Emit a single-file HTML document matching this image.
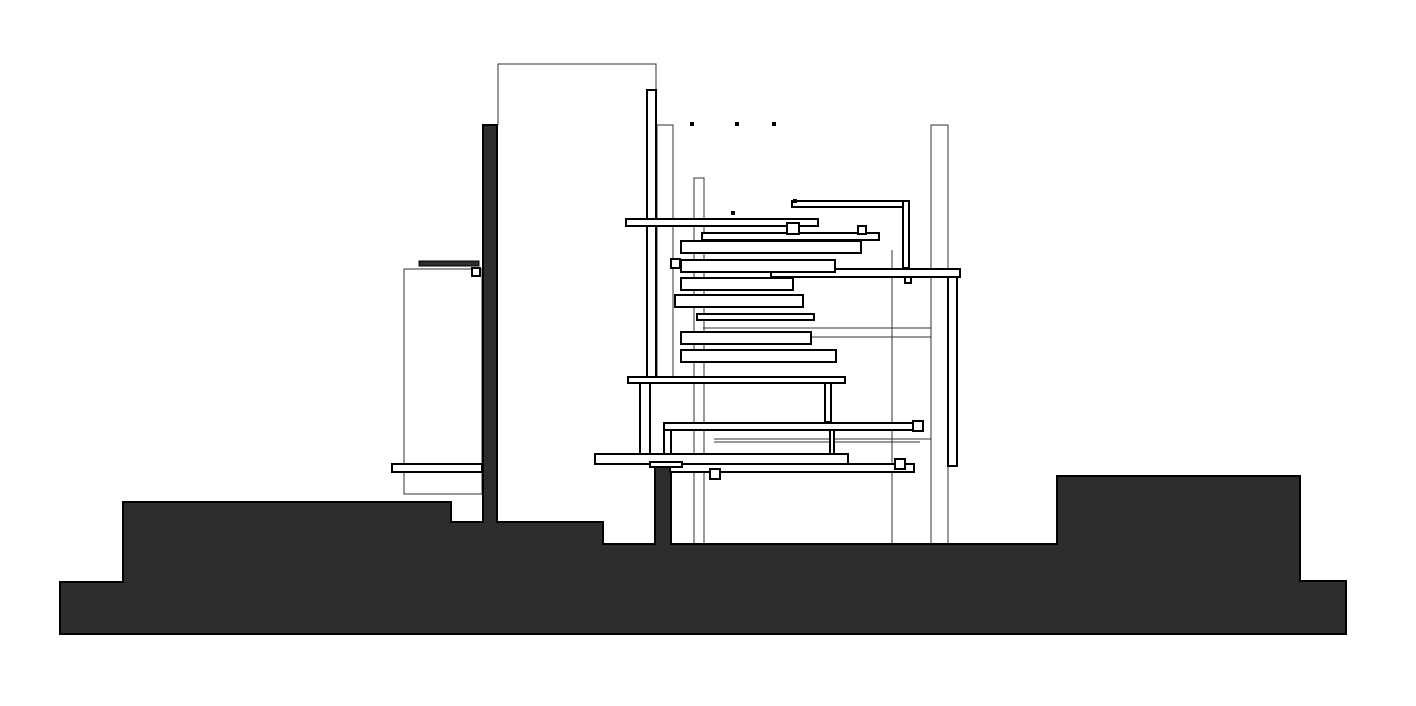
<!DOCTYPE html>
<html><head><meta charset="utf-8"><style>html,body{margin:0;padding:0;background:#fff}svg{display:block}</style></head>
<body>
<svg width="1416" height="706" viewBox="0 0 1416 706" xmlns="http://www.w3.org/2000/svg">
<rect width="1416" height="706" fill="#fff"/>
<g fill="none" stroke="#333" stroke-width="1">
<polyline points="498,125 498,64 656,64 656,90"/>
<rect x="404" y="269" width="78" height="225"/>
<rect x="657" y="125" width="16" height="254"/>
<rect x="694" y="178" width="10" height="366"/>
<rect x="931" y="125" width="17" height="419"/>
<line x1="892" y1="250" x2="892" y2="544"/>
<line x1="703" y1="328" x2="931" y2="328"/>
<line x1="703" y1="337" x2="931" y2="337"/>
<line x1="714" y1="439" x2="931" y2="439"/>
<line x1="714" y1="442" x2="920" y2="442"/>
<line x1="704" y1="226" x2="704" y2="377"/>
</g>
<polygon points="60,582 123,582 123,502 451,502 451,522 483,522 483,125 497,125 497,522 603,522 603,544 655,544 655,466 671,466 671,544 1057,544 1057,476 1300,476 1300,581 1346,581 1346,634 60,634" fill="#2d2d2d" stroke="#000" stroke-width="2"/>
<g fill="#fff" stroke="#000" stroke-width="2">
<rect x="647" y="90" width="9" height="288"/>
<rect x="626" y="219" width="192" height="7"/>
<rect x="702" y="233" width="177" height="7"/>
<rect x="681" y="241" width="180" height="12"/>
<rect x="771" y="269" width="189" height="8"/>
<rect x="681" y="260" width="154" height="12"/>
<rect x="681" y="278" width="112" height="12"/>
<rect x="675" y="295" width="128" height="12"/>
<rect x="697" y="314" width="117" height="6"/>
<rect x="681" y="332" width="130" height="12"/>
<rect x="681" y="350" width="155" height="12"/>
<rect x="948" y="277" width="9" height="189"/>
<rect x="792" y="201" width="117" height="6"/>
<rect x="903" y="201" width="6" height="67"/>
<rect x="640" y="383" width="10" height="78"/>
<rect x="825" y="383" width="6" height="39"/>
<rect x="628" y="377" width="217" height="6"/>
<rect x="664" y="423" width="251" height="7"/>
<rect x="664" y="430" width="7" height="34"/>
<rect x="830" y="430" width="4" height="24"/>
<rect x="595" y="454" width="253" height="10"/>
<rect x="670" y="464" width="244" height="8"/>
<rect x="650" y="462" width="32" height="5"/>
<rect x="392" y="464" width="90" height="8"/>
<rect x="787" y="223" width="12" height="11"/>
<rect x="858" y="226" width="8" height="8"/>
<rect x="671" y="259" width="9" height="9"/>
<rect x="913" y="421" width="10" height="10"/>
<rect x="895" y="459" width="10" height="10"/>
<rect x="710" y="469" width="10" height="10"/>
<rect x="905" y="277" width="6" height="6"/>
<rect x="472" y="268" width="8" height="8"/>
</g>
<rect x="419" y="261" width="60" height="5" fill="#2d2d2d" stroke="#000" stroke-width="1"/>
<g fill="#000">
<rect x="690" y="122" width="4" height="4"/>
<rect x="735" y="122" width="4" height="4"/>
<rect x="772" y="122" width="4" height="4"/>
<rect x="731" y="211" width="4" height="4"/>
<rect x="793" y="199" width="4" height="4"/>
</g>
</svg>
</body></html>
